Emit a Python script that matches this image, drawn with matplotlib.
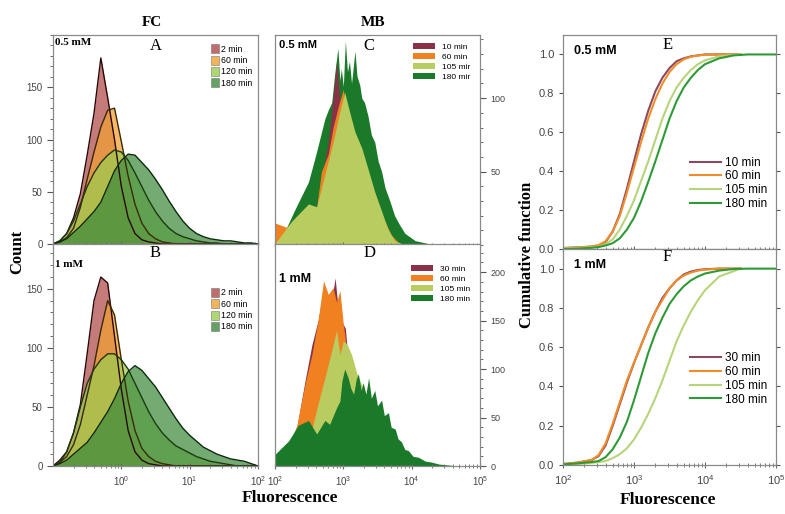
import numpy as np
import matplotlib
matplotlib.use('Agg')
import matplotlib.pyplot as plt
from matplotlib.patches import Patch
from matplotlib.ticker import LogLocator, MultipleLocator, NullFormatter, FixedLocator

SERIF = 'Liberation Serif'
SANS = 'Liberation Sans'
plt.rcParams['font.family'] = SANS

# ---------------- FC histograms (A: 0.5 mM, B: 1 mM) ----------------
# log10(fluorescence) of the bin centres
fc_log = [-1.0, -0.9, -0.8, -0.7, -0.6, -0.5, -0.4, -0.3, -0.2, -0.1, 0.0,
          0.1, 0.2, 0.3, 0.4, 0.5, 0.6, 0.7, 0.8, 0.9, 1.0,
          1.1, 1.2, 1.3, 1.4, 1.5, 1.6, 1.7, 1.8, 1.9, 2.0]
fc_labels = ['2 min', '60 min', '120 min', '180 min']

a_2 = [0, 3, 10, 25, 48, 85, 125, 178, 140, 100, 55, 25, 10, 4, 2, 1,
       0, 0, 0, 0, 0, 0, 0, 0, 0, 0, 0, 0, 0, 0, 0]
a_60 = [0, 2, 6, 15, 35, 62, 88, 112, 128, 130, 98, 65, 38, 20, 10, 5, 2, 1,
        0, 0, 0, 0, 0, 0, 0, 0, 0, 0, 0, 0, 0]
a_120 = [0, 3, 10, 22, 38, 55, 68, 78, 85, 90, 88, 80, 68, 55, 42, 31, 22, 15,
         10, 7, 5, 3, 2, 1, 1, 0, 0, 0, 0, 0, 0]
a_180 = [0, 2, 5, 11, 17, 24, 31, 40, 55, 70, 80, 86, 85, 78, 71, 62, 52, 41,
         31, 22, 15, 10, 7, 5, 4, 3, 3, 2, 1, 1, 0]

b_2 = [0, 5, 12, 28, 52, 95, 140, 160, 155, 110, 65, 30, 12, 5, 2, 1,
       0, 0, 0, 0, 0, 0, 0, 0, 0, 0, 0, 0, 0, 0, 0]
b_60 = [0, 3, 8, 18, 35, 60, 85, 115, 140, 128, 90, 55, 30, 15, 8, 4, 2, 1,
        0, 0, 0, 0, 0, 0, 0, 0, 0, 0, 0, 0, 0]
b_120 = [0, 3, 12, 28, 50, 70, 82, 90, 95, 95, 90, 82, 70, 58, 46, 36, 28, 22,
         17, 14, 11, 8, 6, 4, 3, 2, 1, 0, 0, 0, 0]
b_180 = [0, 2, 5, 10, 15, 20, 28, 37, 46, 57, 70, 80, 85, 81, 74, 67, 58, 49,
         40, 32, 26, 21, 16, 13, 10, 8, 6, 5, 4, 2, 0]

# ---------------- MB histograms (C: 0.5 mM, D: 1 mM) ----------------
c_labels = ['10 min', '60 min', '105 mir', '180 mir']
c_10_log = [2.0, 2.17, 2.49, 2.61, 2.68, 2.78, 2.85, 2.9, 2.95, 3.0, 3.05, 3.1,
            3.2, 3.3, 3.4, 3.5, 3.6, 3.7, 3.8, 3.9]
c_10 = [10, 10, 27, 25, 45, 70, 100, 125, 98, 100, 88, 80, 68, 54, 40, 26, 14,
        5, 2, 0]
c_60_log = [2.0, 2.17, 2.49, 2.61, 2.68, 2.78, 2.85, 2.93, 3.0, 3.03, 3.09, 3.2,
            3.3, 3.4, 3.5, 3.6, 3.7, 3.8, 3.9]
c_60 = [15, 12, 27, 26, 50, 62, 80, 95, 106, 96, 88, 72, 58, 44, 30, 17, 7, 2, 0]
c_105_log = [2.0, 2.24, 2.49, 2.61, 2.73, 2.85, 2.95, 3.02, 3.09, 3.17, 3.27,
             3.36, 3.46, 3.56, 3.65, 3.75, 3.85, 3.95]
c_105 = [1, 16, 28, 26, 48, 70, 91, 104, 91, 77, 66, 52, 36, 23, 11, 3, 1, 0]
c_180_log = [2.17, 2.3, 2.49, 2.6, 2.73, 2.78, 2.83, 2.87, 2.92, 2.95, 2.97, 3.0,
             3.03, 3.06, 3.09, 3.12, 3.17, 3.2, 3.24, 3.27, 3.31, 3.36, 3.41,
             3.46, 3.51, 3.56, 3.61, 3.68, 3.75, 3.82, 3.9, 4.05, 4.24, 4.53]
c_180 = [12, 25, 43, 62, 86, 92, 97, 115, 134, 112, 120, 108, 139, 118, 125,
         110, 132, 115, 109, 100, 97, 88, 75, 70, 57, 50, 39, 30, 20, 14, 8, 3,
         1, 0]

d_labels = ['30 min', '60 min', '105 min', '180 min']
d_30_log = [2.0, 2.2, 2.32, 2.44, 2.54, 2.63, 2.71, 2.78, 2.85, 2.88, 2.92, 2.97,
            3.03, 3.08, 3.2, 3.4, 3.6, 3.8, 4.0, 4.2]
d_30 = [4, 18, 40, 88, 125, 150, 180, 172, 180, 194, 165, 150, 142, 100, 78,
        55, 30, 14, 5, 0]
d_60_log = [2.0, 2.2, 2.32, 2.44, 2.54, 2.63, 2.71, 2.78, 2.85, 2.9, 2.95, 3.0,
            3.02, 3.06, 3.15, 3.3, 3.5, 3.7, 3.9, 4.2]
d_60 = [5, 20, 42, 85, 115, 150, 191, 177, 184, 169, 181, 146, 136, 110, 85,
        65, 40, 20, 8, 0]
d_105_log = [2.0, 2.3, 2.49, 2.54, 2.63, 2.73, 2.83, 2.9, 2.95, 3.0, 3.05, 3.12,
             3.2, 3.28, 3.4, 3.6, 3.8, 4.0, 4.3]
d_105 = [8, 25, 35, 38, 64, 91, 119, 140, 115, 129, 126, 115, 95, 82, 65, 45,
         22, 8, 0]
d_180_log = [2.0, 2.2, 2.34, 2.49, 2.61, 2.73, 2.8, 2.9, 2.95, 2.98, 3.02, 3.07,
             3.11, 3.15, 3.19, 3.22, 3.26, 3.29, 3.33, 3.37, 3.41, 3.46, 3.5,
             3.56, 3.6, 3.66, 3.7, 3.76, 3.8, 3.85, 3.9, 3.95, 4.02, 4.1, 4.2,
             4.29, 4.4, 4.54, 4.7]
d_180 = [12, 26, 42, 47, 33, 47, 43, 60, 67, 88, 100, 91, 80, 74, 90, 95, 78,
         86, 74, 91, 70, 78, 62, 68, 52, 55, 40, 38, 28, 25, 17, 16, 10, 9, 5,
         4, 2, 1, 0]

# ---------------- cumulative functions (E: 0.5 mM, F: 1 mM) ----------------
cum_log = [2.0, 2.2, 2.4, 2.5, 2.6, 2.7, 2.8, 2.9, 3.0, 3.1, 3.2, 3.3, 3.4, 3.5,
           3.6, 3.7, 3.8, 3.9, 4.0, 4.2, 4.5]
cum_log_long = [2.0, 2.2, 2.4, 2.5, 2.6, 2.7, 2.8, 2.9, 3.0, 3.1, 3.2, 3.3, 3.4,
                3.5, 3.6, 3.7, 3.8, 3.9, 4.0, 4.2, 4.4, 4.6, 5.0]
e_labels = ['10 min', '60 min', '105 min', '180 min']
e_10 = [0.005, 0.008, 0.012, 0.018, 0.035, 0.09, 0.18, 0.31, 0.45, 0.59, 0.71,
        0.81, 0.88, 0.93, 0.965, 0.98, 0.99, 0.995, 1.0, 1.0, 1.0]
e_60 = [0.005, 0.008, 0.013, 0.02, 0.04, 0.09, 0.17, 0.29, 0.42, 0.55, 0.67,
        0.77, 0.85, 0.91, 0.95, 0.975, 0.988, 0.995, 0.998, 1.0, 1.0]
e_105 = [0.003, 0.005, 0.008, 0.012, 0.025, 0.05, 0.10, 0.17, 0.25, 0.35, 0.45,
         0.56, 0.67, 0.76, 0.83, 0.88, 0.92, 0.95, 0.97, 0.99, 1.0]
e_180 = [0.0, 0.002, 0.006, 0.01, 0.018, 0.03, 0.055, 0.10, 0.16, 0.245, 0.345,
         0.45, 0.56, 0.67, 0.76, 0.83, 0.88, 0.92, 0.95, 0.98, 0.995, 1.0, 1.0]
f_labels = ['30 min', '60 min', '105 min', '180 min']
f_30 = [0.005, 0.012, 0.025, 0.045, 0.10, 0.20, 0.31, 0.42, 0.52, 0.61, 0.70,
        0.78, 0.85, 0.90, 0.94, 0.97, 0.985, 0.993, 0.997, 1.0, 1.0]
f_60 = [0.005, 0.012, 0.025, 0.05, 0.11, 0.21, 0.32, 0.43, 0.52, 0.61, 0.70,
        0.78, 0.84, 0.90, 0.94, 0.965, 0.98, 0.99, 0.995, 1.0, 1.0]
f_105 = [0.002, 0.005, 0.01, 0.015, 0.02, 0.035, 0.055, 0.085, 0.13, 0.19, 0.26,
         0.34, 0.43, 0.53, 0.63, 0.71, 0.78, 0.84, 0.89, 0.96, 1.0]
f_180 = [0.003, 0.008, 0.015, 0.02, 0.04, 0.08, 0.14, 0.22, 0.33, 0.45, 0.57,
         0.67, 0.75, 0.82, 0.87, 0.91, 0.94, 0.96, 0.975, 0.99, 0.998, 1.0, 1.0]

# colours
fc_colors = ['#b04848', '#f0a030', '#9ccc50', '#3d8b3d']
fc_edges = ['#2a0808', '#3a2a08', '#1e3a10', '#0e2a0e']
mb_colors = ['#8a3048', '#f08020', '#b8cc60', '#1a7a2a']
cum_colors = ['#8b4a5e', '#f28c28', '#b8d47a', '#2e9a36']

W, H = 785, 514
fig = plt.figure(figsize=(W / 100, H / 100), dpi=100)


def box(l, t, r, b):
    return [l / W, 1 - b / H, (r - l) / W, (b - t) / H]


def style_spines(ax):
    for s in ax.spines.values():
        s.set_color('#8a8a8a')
        s.set_linewidth(0.9)


def log_ticks(ax, labels, majors):
    ax.set_xscale('log')
    ax.xaxis.set_major_locator(FixedLocator(majors))
    ax.xaxis.set_minor_locator(LogLocator(base=10, subs=np.arange(2, 10), numticks=20))
    ax.xaxis.set_minor_formatter(NullFormatter())
    if not labels:
        ax.xaxis.set_major_formatter(NullFormatter())
    ax.tick_params(axis='x', which='both', direction='inout', colors='#666',
                   labelcolor='#444', labelsize=7, top=False)
    ax.tick_params(axis='x', which='major', length=5)
    ax.tick_params(axis='x', which='minor', length=3)


# ---------- A, B ----------
axA = fig.add_axes(box(53, 35, 258, 244))
axB = fig.add_axes(box(53, 244, 258, 466))
x_fc = 10 ** np.array(fc_log)
for ax, series, ymax, conc, pos, legy in [
        (axA, [a_2, a_60, a_120, a_180], 200, '0.5 mM', 'A', 0.985),
        (axB, [b_2, b_60, b_120, b_180], 188, '1 mM', 'B', 0.83)]:
    for y, c, e in zip(series, fc_colors, fc_edges):
        ax.fill_between(x_fc, y, color=c, alpha=0.72, lw=0)
        ax.plot(x_fc, y, color=e, lw=1.0)
    ax.set_xlim(0.1, 100)
    ax.set_ylim(0, ymax)
    log_ticks(ax, ax is axB, [1, 10, 100])
    ax.set_yticks([0, 50, 100, 150])
    ax.yaxis.set_minor_locator(MultipleLocator(10))
    ax.tick_params(axis='y', which='both', direction='out', colors='#555',
                   labelcolor='#444', labelsize=7)
    ax.tick_params(axis='y', which='major', length=4)
    ax.tick_params(axis='y', which='minor', length=2)
    style_spines(ax)
    ax.text(0.01, 0.985 if ax is axA else 0.93, conc, transform=ax.transAxes,
            family=SERIF, fontweight='bold', fontsize=8, va='top', ha='left')
    ax.text(0.5, 0.985 if ax is axA else 0.995, pos, transform=ax.transAxes,
            family=SERIF, fontsize=12, va='top', ha='center')
    handles = [Patch(facecolor=c, alpha=0.8, edgecolor='#777', lw=0.5)
               for c in fc_colors]
    ax.legend(handles, fc_labels, loc='upper right', bbox_to_anchor=(1.0, legy),
              frameon=False, fontsize=6.3, handlelength=1.0, handleheight=1.2,
              handletextpad=0.15, labelspacing=0.22, borderpad=0.2)

# ---------- C, D ----------
axC = fig.add_axes(box(275, 35, 480, 245))
axD = fig.add_axes(box(275, 244, 480, 466))
c_series = [(c_180_log, c_180, 3), (c_10_log, c_10, 0), (c_60_log, c_60, 1),
            (c_105_log, c_105, 2)]
d_series = [(d_30_log, d_30, 0), (d_60_log, d_60, 1), (d_105_log, d_105, 2),
            (d_180_log, d_180, 3)]
for ax, series, ymax, conc, pos, labels, ticks in [
        (axC, c_series, 143, '0.5 mM', 'C', c_labels, [50, 100]),
        (axD, d_series, 229, '1 mM', 'D', d_labels, [0, 50, 100, 150, 200])]:
    for lx, y, k in series:
        ax.fill_between(10 ** np.array(lx), y, color=mb_colors[k], lw=0)
    ax.set_xlim(100, 1e5)
    ax.set_ylim(0, ymax)
    log_ticks(ax, ax is axD, [1e2, 1e3, 1e4, 1e5])
    ax.yaxis.tick_right()
    ax.set_yticks(ticks)
    ax.yaxis.set_minor_locator(MultipleLocator(10))
    ax.tick_params(axis='y', which='both', direction='out', colors='#555',
                   labelcolor='#444', labelsize=6.5, left=False)
    ax.tick_params(axis='y', which='major', length=4)
    ax.tick_params(axis='y', which='minor', length=2)
    style_spines(ax)
    ax.text(0.02, 0.975 if ax is axC else 0.87, conc, transform=ax.transAxes,
            fontweight='bold', fontsize=8 if ax is axC else 9, va='top', ha='left')
    ax.text(0.46, 0.985 if ax is axC else 0.995, pos, transform=ax.transAxes,
            family=SERIF, fontsize=12, va='top', ha='center')
    handles = [Patch(facecolor=c, lw=0) for c in mb_colors]
    ax.legend(handles, labels, loc='upper right',
              bbox_to_anchor=(0.98, 0.99 if ax is axC else 0.93),
              frameon=False, fontsize=6, handlelength=2.6, handleheight=0.7,
              handletextpad=0.8, labelspacing=0.25, borderpad=0.2)

# ---------- E, F ----------
axE = fig.add_axes(box(563, 35, 776, 249))
axF = fig.add_axes(box(563, 249, 776, 465))
for ax, series, conc, pos, labels, legy in [
        (axE, [e_10, e_60, e_105, e_180], '0.5 mM', 'E', e_labels, 0.47),
        (axF, [f_30, f_60, f_105, f_180], '1 mM', 'F', f_labels, 0.56)]:
    for i, (y, c) in enumerate(zip(series, cum_colors)):
        lx = cum_log_long if len(y) == len(cum_log_long) else cum_log
        ax.plot(10 ** np.array(lx), y, color=c, lw=1.5, label=labels[i])
    ax.set_xlim(100, 1e5)
    ax.set_ylim(0, 1.1)
    log_ticks(ax, ax is axF, [1e2, 1e3, 1e4, 1e5])
    ax.tick_params(axis='x', which='both', labelsize=8)
    ax.set_yticks([0, 0.2, 0.4, 0.6, 0.8, 1.0])
    ax.set_yticklabels(['0.0', '0.2', '0.4', '0.6', '0.8', '1.0'])
    ax.tick_params(axis='y', which='both', direction='out', colors='#555',
                   labelcolor='#444', labelsize=8, length=3, right=True)
    style_spines(ax)
    ax.text(0.05, 0.955, conc, transform=ax.transAxes, fontweight='bold',
            fontsize=9, va='top', ha='left')
    ax.text(0.49, 0.99 if ax is axE else 1.0, pos, transform=ax.transAxes,
            family=SERIF, fontsize=12, va='top', ha='center')
    ax.legend(loc='upper right', bbox_to_anchor=(1.0, legy), frameon=False,
              fontsize=8.5, handlelength=2.6, handletextpad=0.4,
              labelspacing=0.15, borderpad=0.2)

# ---------- shared labels ----------
fig.text(152 / W, 1 - 23 / H, 'FC', family=SERIF, fontweight='bold',
         fontsize=11, ha='center', va='center')
fig.text(373 / W, 1 - 22 / H, 'MB', family=SERIF, fontweight='bold',
         fontsize=11, ha='center', va='center')
fig.text(17 / W, 1 - 252 / H, 'Count', family=SERIF, fontweight='bold',
         fontsize=12, ha='center', va='center', rotation=90)
fig.text(290 / W, 1 - 498 / H, 'Fluorescence', family=SERIF, fontweight='bold',
         fontsize=12.5, ha='center', va='center')
fig.text(668 / W, 1 - 500 / H, 'Fluorescence', family=SERIF, fontweight='bold',
         fontsize=12.5, ha='center', va='center')
fig.text(527 / W, 1 - 255 / H, 'Cumulative function', family=SERIF,
         fontweight='bold', fontsize=12, ha='center', va='center', rotation=90)

fig.savefig('out.png', dpi=100)
